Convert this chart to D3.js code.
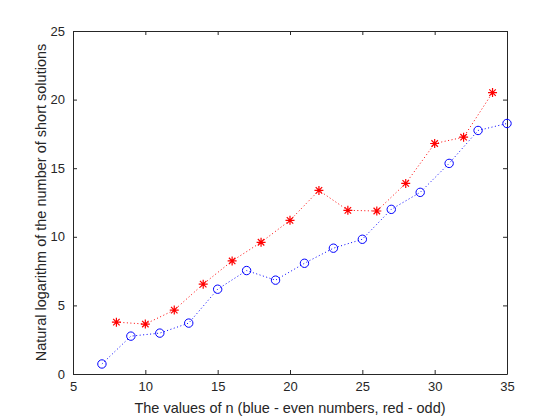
<!DOCTYPE html>
<meta charset="utf-8">
<style>
body { margin: 0; background: #fff; }
text { font-family: "Liberation Sans", Arial, sans-serif; fill: #262626; }
</style>
<svg width="560" height="420"></svg>
<script src="https://d3js.org/d3.v7.min.js"></script>
<script>

// odd n -> blue circles, even n -> red stars
var oddN   = [7, 9, 11, 13, 15, 17, 19, 21, 23, 25, 27, 29, 31, 33, 35];
var oddY   = [0.73, 2.76, 2.98, 3.71, 6.18, 7.54, 6.84, 8.07, 9.17, 9.82, 12.00, 13.24, 15.35, 17.75, 18.26];
var evenN  = [8, 10, 12, 14, 16, 18, 20, 22, 24, 26, 28, 30, 32, 34];
var evenY  = [3.78, 3.64, 4.66, 6.55, 8.24, 9.60, 11.20, 13.38, 11.93, 11.88, 13.89, 16.80, 17.26, 20.51];
var xTicks = [5, 10, 15, 20, 25, 30, 35];
var yTicks = [0, 5, 10, 15, 20, 25];

var svg = d3.select("svg"),
    plotLeft = 73, plotRight = 507, plotTop = 31, plotBottom = 374;

var x = d3.scaleLinear().domain([5, 35]).range([plotLeft, plotRight]);
var y = d3.scaleLinear().domain([0, 25]).range([plotBottom, plotTop]);

svg.append("rect")
   .attr("width", 560)
   .attr("height", 420)
   .attr("fill", "#fff");

// axes, ticks pointing inward, box on
svg.append("g")
   .attr("transform", "translate(0," + plotBottom + ")")
   .call(d3.axisBottom(x).tickValues(xTicks).tickSizeInner(-4).tickSizeOuter(0).tickPadding(8));
svg.append("g")
   .attr("transform", "translate(0," + plotTop + ")")
   .call(d3.axisTop(x).tickValues(xTicks).tickSizeInner(-4).tickSizeOuter(0).tickFormat(""));
svg.append("g")
   .attr("transform", "translate(" + plotLeft + ",0)")
   .call(d3.axisLeft(y).tickValues(yTicks).tickSizeInner(-4).tickSizeOuter(0).tickPadding(8));
svg.append("g")
   .attr("transform", "translate(" + plotRight + ",0)")
   .call(d3.axisRight(y).tickValues(yTicks).tickSizeInner(-4).tickSizeOuter(0).tickFormat(""));

svg.selectAll(".domain, .tick line")
   .attr("stroke", "#262626")
   .attr("stroke-width", 1);
svg.selectAll(".tick text")
   .style("font-size", "13px")
   .style("font-family", "'Liberation Sans', Arial, sans-serif")
   .attr("fill", "#262626");

// series lines
var line = d3.line()
             .x(function(d) { return x(d[0]); })
             .y(function(d) { return y(d[1]); });

var oddPts  = oddN.map(function(n, i) { return [n, oddY[i]]; });
var evenPts = evenN.map(function(n, i) { return [n, evenY[i]]; });

svg.append("path")
   .datum(evenPts)
   .attr("d", line)
   .attr("fill", "none")
   .attr("stroke", "#ff0000")
   .attr("stroke-width", 1)
   .style("stroke-dasharray", "1,2.5");

svg.append("path")
   .datum(oddPts)
   .attr("d", line)
   .attr("fill", "none")
   .attr("stroke", "#0000ff")
   .attr("stroke-width", 1)
   .style("stroke-dasharray", "1,2.5");

// blue circle markers
svg.selectAll(".odd")
   .data(oddPts)
   .enter().append("circle")
   .attr("class", "odd")
   .attr("cx", function(d) { return x(d[0]); })
   .attr("cy", function(d) { return y(d[1]); })
   .attr("r", 4.2)
   .attr("fill", "none")
   .attr("stroke", "#0000ff")
   .attr("stroke-width", 1);

// red star markers (plus and cross)
var s = 4.5, sd = s * 0.72;
var star = "M0," + (-s) + "V" + s + "M" + (-s) + ",0H" + s +
           "M" + (-sd) + "," + (-sd) + "L" + sd + "," + sd +
           "M" + (-sd) + "," + sd + "L" + sd + "," + (-sd);

svg.selectAll(".even")
   .data(evenPts)
   .enter().append("path")
   .attr("class", "even")
   .attr("transform", function(d) { return "translate(" + x(d[0]) + "," + y(d[1]) + ")"; })
   .attr("d", star)
   .attr("fill", "none")
   .attr("stroke", "#ff0000")
   .attr("stroke-width", 1.2);

// axis labels
svg.append("text")
   .attr("x", (plotLeft + plotRight) / 2)
   .attr("y", 413)
   .attr("text-anchor", "middle")
   .style("font-size", "14.5px")
   .text("The values of n (blue - even numbers, red - odd)");

svg.append("text")
   .attr("transform", "translate(46," + ((plotTop + plotBottom) / 2) + ") rotate(-90)")
   .attr("text-anchor", "middle")
   .style("font-size", "14.5px")
   .text("Natural logarithm of the number of short solutions");

</script>
